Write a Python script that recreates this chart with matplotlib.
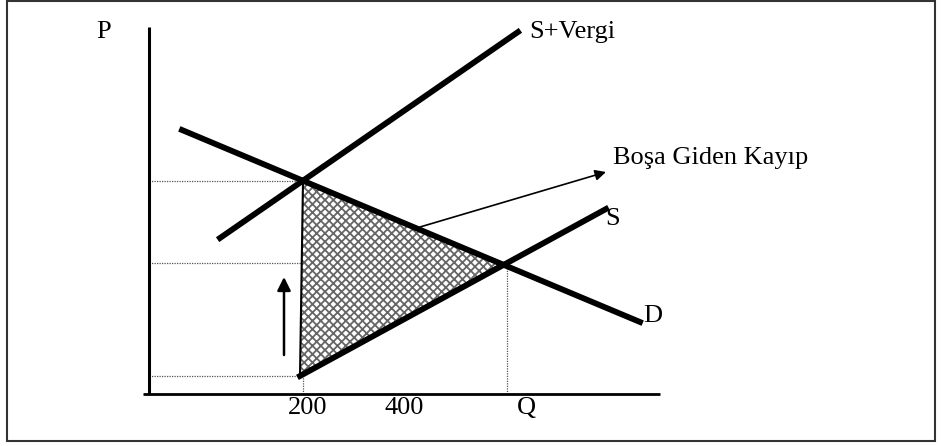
import matplotlib
matplotlib.use("Agg")
import matplotlib.pyplot as plt
from matplotlib.patches import Polygon, Rectangle

plt.rcParams['font.family'] = ['Liberation Serif', 'DejaVu Serif']
plt.rcParams['hatch.linewidth'] = 1.3

# chart units: origin at the axis crossing
demand = ([33, 491], [264, 72])          # D
supply = ([151, 457], [18, 185])         # S
supply_tax = ([71, 369], [156, 362])     # S+Vergi

eq_tax = (154, 213)    # S+Vergi ile D kesisimi
eq = (354, 131)        # S ile D kesisimi
low = (151, 18)        # vergi sonrasi ureticinin aldigi fiyat

tick_pos = [159, 255, 377]
tick_labels = ['200', '400', 'Q']

fig = plt.figure(figsize=(9.41, 4.46), dpi=100)
ax = fig.add_axes([0, 0, 1, 1])
ax.set_xlim(-149, 792)
ax.set_ylim(-52, 394)
ax.axis('off')

# cerceve
ax.add_patch(Rectangle((-142, -47), 928, 440, fill=False, edgecolor='#333333', lw=1.5))

# eksenler
ax.plot([0, 0], [0, 367], color='black', lw=2.2, solid_capstyle='butt')
ax.plot([-6, 511], [0, 0], color='black', lw=2.0, solid_capstyle='butt')

# kayip ucgeni (taranmis alan + ince kenar)
ax.add_patch(Polygon([eq_tax, eq, low], closed=True, facecolor='white',
                     edgecolor='#666666', hatch='xxxx', lw=0, zorder=2))
ax.add_patch(Polygon([eq_tax, eq, low], closed=True, fill=False,
                     edgecolor='black', lw=1.5, zorder=2))

# noktali kilavuz cizgiler
dot = dict(color='#555555', lw=0.9, linestyle=(0, (1, 1)), zorder=1)
ax.plot([0, eq_tax[0]], [eq_tax[1], eq_tax[1]], **dot)
ax.plot([0, eq[0]], [eq[1], eq[1]], **dot)
ax.plot([0, low[0]], [low[1], low[1]], **dot)
ax.plot([eq_tax[0], eq_tax[0]], [0, low[1]], **dot)
ax.plot([eq[0] + 4, eq[0] + 4], [0, eq[1]], **dot)

# egriler
ax.plot(*supply_tax, color='black', lw=4.2, zorder=3)
ax.plot(*demand, color='black', lw=4.2, zorder=3)
ax.plot(*supply, color='black', lw=4.2, zorder=3)

# oklar
ax.annotate('', xy=(135, 117), xytext=(135, 39),
            arrowprops=dict(arrowstyle='-|>', color='black', lw=1.8,
                            mutation_scale=20, shrinkA=0, shrinkB=0))
ax.annotate('', xy=(457, 222), xytext=(271, 167),
            arrowprops=dict(arrowstyle='-|>', color='black', lw=1.2,
                            mutation_scale=16, shrinkA=0, shrinkB=0))

# yazilar
fs = 19
ax.text(-45, 362, 'P', fontsize=fs, ha='center', va='center')
ax.text(380, 362, 'S+Vergi', fontsize=fs, ha='left', va='center')
ax.text(464, 236, 'Boşa Giden Kayıp', fontsize=fs, ha='left', va='center')
ax.text(456, 175, 'S', fontsize=fs, ha='left', va='center')
ax.text(494, 78, 'D', fontsize=fs, ha='left', va='center')
for x, lab in zip(tick_pos, tick_labels):
    ax.text(x, -14, lab, fontsize=fs, ha='center', va='center')

fig.savefig('out.png', dpi=100)
